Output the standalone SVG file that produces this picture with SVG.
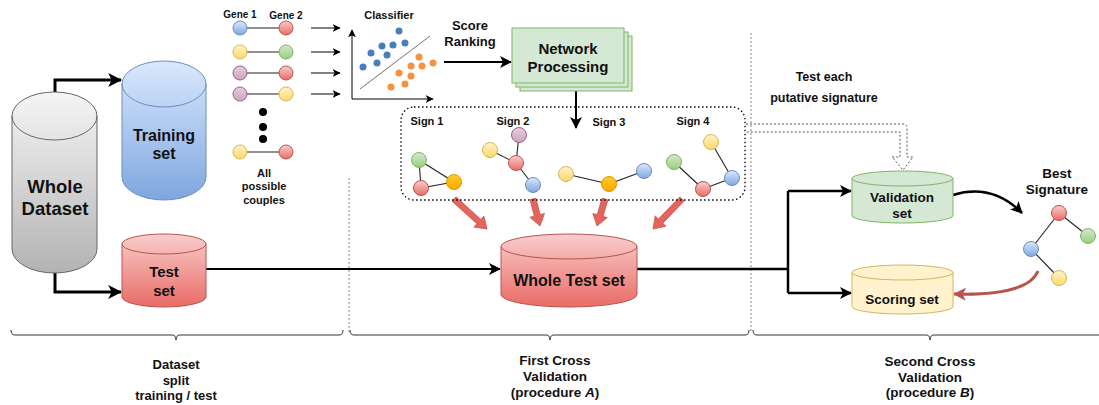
<svg xmlns="http://www.w3.org/2000/svg" width="1099" height="405" viewBox="0 0 1099 405">
  <style>
    text { font-family: "Liberation Sans", Arial, sans-serif; font-weight: bold; fill: #111; text-anchor: middle; }
    .edge { stroke: #222; stroke-width: 1.1; fill: none; }
    .sep { stroke: #888; stroke-width: 1; stroke-dasharray: 2 2; fill: none; }
    .brace { stroke: #333; stroke-width: 1; fill: none; }
    .red { fill: url(#gRed); stroke: #b85450; stroke-width: 1; }
    .blue { fill: url(#gBlue); stroke: #6c8ebf; stroke-width: 1; }
    .green { fill: url(#gGreen); stroke: #82b366; stroke-width: 1; }
    .yellow { fill: url(#gYellow); stroke: #d6b656; stroke-width: 1; }
    .purple { fill: url(#gPurple); stroke: #996185; stroke-width: 1; }
    .orange { fill: url(#gOrange); stroke: #d79b00; stroke-width: 1; }
    .bdot { fill: #4a7dbf; }
    .odot { fill: #f5923e; }
    .fat { fill: #e5645d; stroke: #c65550; stroke-width: 0.8; }
  </style>
  <defs>
    <linearGradient id="gRed" x1="0" y1="0" x2="0" y2="1"><stop offset="0" stop-color="#f8cecc"/><stop offset="1" stop-color="#ea6b66"/></linearGradient>
    <linearGradient id="gBlue" x1="0" y1="0" x2="0" y2="1"><stop offset="0" stop-color="#dae8fc"/><stop offset="1" stop-color="#7ea6e0"/></linearGradient>
    <linearGradient id="gGreen" x1="0" y1="0" x2="0" y2="1"><stop offset="0" stop-color="#d5e8d4"/><stop offset="1" stop-color="#97d077"/></linearGradient>
    <linearGradient id="gYellow" x1="0" y1="0" x2="0" y2="1"><stop offset="0" stop-color="#fff2cc"/><stop offset="1" stop-color="#ffd966"/></linearGradient>
    <linearGradient id="gPurple" x1="0" y1="0" x2="0" y2="1"><stop offset="0" stop-color="#e6d0de"/><stop offset="1" stop-color="#cda2be"/></linearGradient>
    <linearGradient id="gOrange" x1="0" y1="0" x2="0" y2="1"><stop offset="0" stop-color="#ffcd28"/><stop offset="1" stop-color="#ffa500"/></linearGradient>
    <linearGradient id="gGray" x1="0" y1="0" x2="0" y2="1"><stop offset="0" stop-color="#f5f5f5"/><stop offset="1" stop-color="#b3b3b3"/></linearGradient>
    <marker id="arrBig" viewBox="0 0 12 12" refX="11" refY="6" markerWidth="14" markerHeight="14" markerUnits="userSpaceOnUse" orient="auto">
      <path d="M0,0 L12,6 L0,12 L3,6 Z" fill="#000"/>
    </marker>
    <marker id="arrMid" viewBox="0 0 12 12" refX="11" refY="6" markerWidth="12" markerHeight="12" markerUnits="userSpaceOnUse" orient="auto">
      <path d="M0,0 L12,6 L0,12 L3,6 Z" fill="#000"/>
    </marker>
    <marker id="arrSmall" viewBox="0 0 12 12" refX="11" refY="6" markerWidth="8" markerHeight="8" markerUnits="userSpaceOnUse" orient="auto">
      <path d="M0,0 L12,6 L0,12 L3,6 Z" fill="#000"/>
    </marker>
    <marker id="arrRed" viewBox="0 0 12 12" refX="11" refY="6" markerWidth="13" markerHeight="13" markerUnits="userSpaceOnUse" orient="auto">
      <path d="M0,0 L12,6 L0,12 L3,6 Z" fill="#b85450"/>
    </marker>
  </defs>

  <!-- section separators -->
  <g id="separators">
    <line class="sep" x1="349" y1="178" x2="349" y2="333"/>
    <line class="sep" x1="751" y1="33" x2="751" y2="333"/>
  </g>

  <!-- connectors -->
  <g id="connectors">
    <path d="M55,92 V80 H121" stroke="#000" stroke-width="3" fill="none" marker-end="url(#arrBig)"/>
    <path d="M55,273 V292 H121" stroke="#000" stroke-width="3" fill="none" marker-end="url(#arrBig)"/>
    <line x1="206" y1="269" x2="500" y2="269" stroke="#000" stroke-width="2" marker-end="url(#arrMid)"/>
    <path d="M637,269 H788" stroke="#000" stroke-width="2.5" fill="none"/>
    <path d="M788,191 V293" stroke="#000" stroke-width="2.5" fill="none"/>
    <line x1="788" y1="191" x2="851" y2="191" stroke="#000" stroke-width="2.5" marker-end="url(#arrMid)"/>
    <line x1="788" y1="293" x2="851" y2="293" stroke="#000" stroke-width="2.5" marker-end="url(#arrMid)"/>
    <!-- gene couples to classifier -->
    <line x1="311" y1="28" x2="340" y2="28" stroke="#000" stroke-width="1" marker-end="url(#arrSmall)"/>
    <line x1="311" y1="52" x2="340" y2="52" stroke="#000" stroke-width="1" marker-end="url(#arrSmall)"/>
    <line x1="311" y1="73" x2="340" y2="73" stroke="#000" stroke-width="1" marker-end="url(#arrSmall)"/>
    <line x1="311" y1="94" x2="340" y2="94" stroke="#000" stroke-width="1" marker-end="url(#arrSmall)"/>
    <!-- classifier to network processing -->
    <line x1="444" y1="62" x2="511" y2="62" stroke="#000" stroke-width="2" marker-end="url(#arrMid)"/>
    <!-- network processing to signatures -->
    <line x1="576" y1="88" x2="576" y2="128" stroke="#000" stroke-width="2" marker-end="url(#arrMid)"/>
    <!-- signatures to whole test set -->
    <polygon class="fat" points="452.0,201.2 476.9,223.8 473.9,227.1 487,229 483.9,216.1 480.9,219.4 456.0,196.8"/>
    <polygon class="fat" points="530.1,199.8 534.3,216.2 529.9,217.3 540,226 544.5,213.5 540.1,214.6 535.9,198.2"/>
    <polygon class="fat" points="602.1,198.1 597.2,214.6 592.9,213.4 597,226 607.3,217.6 603.0,216.4 607.9,199.9"/>
    <polygon class="fat" points="679.8,196.9 658.4,219.0 655.2,215.9 653,229 666.0,226.3 662.8,223.2 684.2,201.1"/>
    <!-- test each putative signature (hollow dotted arrow) -->
    <path d="M746,124 H903 Q907,124 907,128 V157 H913 L903,170 L892,157 H900 V132 H746" fill="none" stroke="#555" stroke-width="1" stroke-dasharray="2 2"/>
    <!-- validation to best signature -->
    <path d="M953,195 Q992,183 1022,213" stroke="#000" stroke-width="2.5" fill="none" marker-end="url(#arrMid)"/>
    <!-- best signature to scoring -->
    <path d="M1038,271 Q1028,296 954,294" stroke="#b85450" stroke-width="3" fill="none" marker-end="url(#arrRed)"/>
  </g>

  <!-- whole dataset -->
  <g id="whole-dataset">
    <path d="M12,116 A42.5,24 0 0 1 97,116 V249 A42.5,24 0 0 1 12,249 Z" fill="url(#gGray)" stroke="#666" stroke-width="1"/>
    <path d="M12,116 A42.5,24 0 0 0 97,116" fill="none" stroke="#666" stroke-width="1"/>
    <text x="55" y="193" font-size="18.5">Whole</text>
    <text x="55" y="215" font-size="18.5">Dataset</text>
  </g>

  <g id="training-set">
    <path d="M122,84 A42,23 0 0 1 206,84 V177 A42,23 0 0 1 122,177 Z" class="blue" style="fill:url(#gBlue)"/>
    <path d="M122,84 A42,23 0 0 0 206,84" fill="none" stroke="#6c8ebf" stroke-width="1"/>
    <text x="164" y="141" font-size="16">Training</text>
    <text x="164" y="159" font-size="16">set</text>
  </g>

  <g id="test-set">
    <path d="M122,244 A42,10 0 0 1 206,244 V297 A42,10 0 0 1 122,297 Z" class="red"/>
    <path d="M122,244 A42,10 0 0 0 206,244" fill="none" stroke="#b85450" stroke-width="1"/>
    <text x="164" y="277" font-size="15">Test</text>
    <text x="164" y="296" font-size="15">set</text>
  </g>

  <!-- gene couples -->
  <g id="gene-couples">
    <text x="240" y="18" font-size="10">Gene 1</text>
    <text x="286" y="19" font-size="10">Gene 2</text>
    <line class="edge" x1="240" y1="28" x2="286" y2="28"/>
    <line class="edge" x1="240" y1="52" x2="286" y2="52" stroke="#666"/>
    <line class="edge" x1="240" y1="73" x2="286" y2="73"/>
    <line class="edge" x1="240" y1="94" x2="286" y2="94" stroke="#666"/>
    <line class="edge" x1="240" y1="152" x2="286" y2="152" stroke="#666"/>
    <circle class="blue" cx="240" cy="28" r="7"/>
    <circle class="red" cx="286" cy="28" r="7"/>
    <circle class="yellow" cx="240" cy="52" r="7"/>
    <circle class="green" cx="286" cy="52" r="7"/>
    <circle class="purple" cx="240" cy="73" r="7"/>
    <circle class="red" cx="286" cy="73" r="7"/>
    <circle class="purple" cx="240" cy="94" r="7"/>
    <circle class="yellow" cx="286" cy="94" r="7"/>
    <circle cx="263" cy="112" r="4" fill="#000"/>
    <circle cx="263" cy="127" r="4" fill="#000"/>
    <circle cx="263" cy="139" r="4" fill="#000"/>
    <circle class="yellow" cx="240" cy="152" r="7"/>
    <circle class="red" cx="286" cy="152" r="7"/>
    <text x="264" y="177" font-size="11">All</text>
    <text x="264" y="190" font-size="11">possible</text>
    <text x="264" y="204" font-size="11">couples</text>
  </g>

  <!-- classifier plot -->
  <g id="classifier">
    <text x="389" y="19" font-size="11">Classifier</text>
    <line x1="352" y1="99" x2="352" y2="30" stroke="#000" stroke-width="1" marker-end="url(#arrSmall)"/>
    <line x1="352" y1="99" x2="433" y2="99" stroke="#000" stroke-width="1" marker-end="url(#arrSmall)"/>
    <line x1="360" y1="89" x2="430" y2="36" stroke="#333" stroke-width="0.7"/>
    <circle class="bdot" cx="399" cy="31" r="3.5"/>
    <circle class="bdot" cx="382" cy="46" r="3.5"/>
    <circle class="bdot" cx="393" cy="45" r="3.5"/>
    <circle class="bdot" cx="405" cy="43" r="3.5"/>
    <circle class="bdot" cx="371" cy="53" r="3.5"/>
    <circle class="bdot" cx="387" cy="55" r="3.5"/>
    <circle class="bdot" cx="363" cy="67" r="3.5"/>
    <circle class="bdot" cx="377" cy="63" r="3.5"/>
    <circle class="odot" cx="419" cy="57" r="3.5"/>
    <circle class="odot" cx="411" cy="66" r="3.5"/>
    <circle class="odot" cx="422" cy="66" r="3.5"/>
    <circle class="odot" cx="433" cy="63" r="3.5"/>
    <circle class="odot" cx="399" cy="73" r="3.5"/>
    <circle class="odot" cx="411" cy="76" r="3.5"/>
    <circle class="odot" cx="391" cy="87" r="3.5"/>
    <circle class="odot" cx="405" cy="84" r="3.5"/>
  </g>

  <g id="score-ranking">
    <text x="470" y="30" font-size="13">Score</text>
    <text x="470" y="46" font-size="13">Ranking</text>
  </g>

  <g id="network-processing">
    <rect x="520" y="36" width="112" height="55" fill="#d5e8d4" stroke="#82b366" stroke-width="1"/>
    <rect x="516" y="32" width="112" height="55" fill="#d5e8d4" stroke="#82b366" stroke-width="1"/>
    <rect x="512" y="28" width="112" height="55" fill="#d5e8d4" stroke="#82b366" stroke-width="1"/>
    <text x="568" y="54" font-size="15">Network</text>
    <text x="568" y="72" font-size="15">Processing</text>
  </g>

  <!-- candidate signatures -->
  <g id="signatures">
    <rect x="401" y="107" width="344" height="93" rx="13" ry="13" fill="none" stroke="#000" stroke-width="1.3" stroke-dasharray="1.5 2.5"/>
    <text x="427" y="125" font-size="11">Sign 1</text>
    <text x="513" y="125" font-size="11">Sign 2</text>
    <text x="609" y="126" font-size="11">Sign 3</text>
    <text x="693" y="125" font-size="11">Sign 4</text>
    <!-- sign 1 -->
    <line class="edge" x1="419" y1="160" x2="421" y2="188"/>
    <line class="edge" x1="419" y1="160" x2="454" y2="182"/>
    <line class="edge" x1="421" y1="188" x2="454" y2="182"/>
    <circle class="green" cx="419" cy="160" r="7.5"/>
    <circle class="red" cx="421" cy="188" r="7.5"/>
    <circle class="orange" cx="454" cy="182" r="7.5"/>
    <!-- sign 2 -->
    <line class="edge" x1="519" y1="135" x2="516" y2="163"/>
    <line class="edge" x1="490" y1="150" x2="516" y2="163"/>
    <line class="edge" x1="516" y1="163" x2="533" y2="185"/>
    <circle class="purple" cx="519" cy="135" r="7.5"/>
    <circle class="yellow" cx="490" cy="150" r="7.5"/>
    <circle class="red" cx="516" cy="163" r="7.5"/>
    <circle class="blue" cx="533" cy="185" r="7.5"/>
    <!-- sign 3 -->
    <line class="edge" x1="566" y1="174" x2="609" y2="184"/>
    <line class="edge" x1="609" y1="184" x2="644" y2="171"/>
    <circle class="yellow" cx="566" cy="174" r="7.5"/>
    <circle class="orange" cx="609" cy="184" r="7.5"/>
    <circle class="blue" cx="644" cy="171" r="7.5"/>
    <!-- sign 4 -->
    <line class="edge" x1="674" y1="162" x2="703" y2="189"/>
    <line class="edge" x1="703" y1="189" x2="732" y2="178"/>
    <line class="edge" x1="732" y1="178" x2="711" y2="142"/>
    <circle class="yellow" cx="711" cy="142" r="7.5"/>
    <circle class="green" cx="674" cy="162" r="7.5"/>
    <circle class="red" cx="703" cy="189" r="7.5"/>
    <circle class="blue" cx="732" cy="178" r="7.5"/>
  </g>

  <g id="whole-test-set">
    <path d="M501,246.5 A68,12.5 0 0 1 637,246.5 V294.5 A68,12.5 0 0 1 501,294.5 Z" class="red"/>
    <path d="M501,246.5 A68,12.5 0 0 0 637,246.5" fill="none" stroke="#b85450" stroke-width="1"/>
    <text x="569" y="286" font-size="16">Whole Test set</text>
  </g>

  <g id="test-each-label">
    <text x="824" y="81" font-size="12.5">Test each</text>
    <text x="824" y="102" font-size="12.5">putative signature</text>
  </g>

  <g id="validation-set">
    <path d="M852,178.5 A50.5,7.5 0 0 1 953,178.5 V215.5 A50.5,7.5 0 0 1 852,215.5 Z" fill="#d5e8d4" stroke="#82b366" stroke-width="1"/>
    <path d="M852,178.5 A50.5,7.5 0 0 0 953,178.5" fill="none" stroke="#82b366" stroke-width="1"/>
    <text x="902" y="202" font-size="13.5">Validation</text>
    <text x="902" y="218" font-size="13.5">set</text>
  </g>

  <g id="scoring-set">
    <path d="M852,272.5 A50.5,7.5 0 0 1 953,272.5 V306.5 A50.5,7.5 0 0 1 852,306.5 Z" fill="#fff2cc" stroke="#d6b656" stroke-width="1"/>
    <path d="M852,272.5 A50.5,7.5 0 0 0 953,272.5" fill="none" stroke="#d6b656" stroke-width="1"/>
    <text x="902" y="304" font-size="13.5">Scoring set</text>
  </g>

  <g id="best-signature">
    <text x="1057" y="178" font-size="13.5">Best</text>
    <text x="1057" y="194" font-size="13.5">Signature</text>
    <line class="edge" x1="1059" y1="213" x2="1088" y2="236"/>
    <line class="edge" x1="1059" y1="213" x2="1031" y2="249"/>
    <line class="edge" x1="1031" y1="249" x2="1059" y2="278"/>
    <circle class="red" cx="1059" cy="213" r="7.5"/>
    <circle class="green" cx="1088" cy="236" r="7.5"/>
    <circle class="blue" cx="1031" cy="249" r="7.5"/>
    <circle class="yellow" cx="1059" cy="278" r="7.5"/>
  </g>

  <!-- bottom braces and phase labels -->
  <g id="phase-split">
    <path class="brace" d="M11,330 Q11,335 15,335 H172 Q176,335 176,340 Q176,335 180,335 H339 Q343,335 343,330"/>
    <text x="176" y="369" font-size="13">Dataset</text>
    <text x="176" y="385" font-size="13">split</text>
    <text x="176" y="400" font-size="13">training / test</text>
  </g>
  <g id="phase-first">
    <path class="brace" d="M350,330 Q350,335 354,335 H546 Q550,335 550,340 Q550,335 554,335 H745 Q749,335 749,330"/>
    <text x="555" y="365" font-size="13.5">First Cross</text>
    <text x="555" y="381" font-size="13.5">Validation</text>
    <text x="555" y="397" font-size="13.5">(procedure <tspan font-style="italic">A</tspan>)</text>
  </g>
  <g id="phase-second">
    <path class="brace" d="M753,330 Q753,335 757,335 H926 Q930,335 930,340 Q930,335 934,335 H1099"/>
    <text x="930" y="366" font-size="13.5">Second Cross</text>
    <text x="930" y="382" font-size="13.5">Validation</text>
    <text x="930" y="397" font-size="13.5">(procedure <tspan font-style="italic">B</tspan>)</text>
  </g>
</svg>
